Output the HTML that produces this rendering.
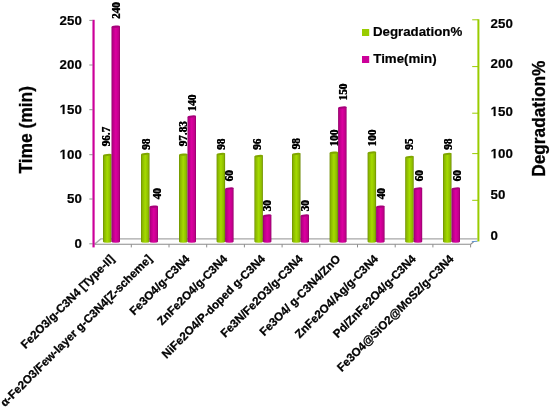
<!DOCTYPE html>
<html><head><meta charset="utf-8"><title>chart</title>
<style>
html,body{margin:0;padding:0;background:#fff;}
body{width:550px;height:407px;overflow:hidden;font-family:"Liberation Sans",sans-serif;}
svg{display:block;}
.ax{font-family:"Liberation Sans",sans-serif;font-weight:bold;font-size:13.3px;fill:#000;stroke:#000;stroke-width:0.2px;}
.ti{font-family:"Liberation Sans",sans-serif;font-weight:bold;font-size:17px;fill:#000;stroke:#000;stroke-width:0.3px;}
.xl{font-family:"Liberation Sans",sans-serif;font-weight:bold;font-size:11.6px;fill:#000;stroke:#000;stroke-width:0.3px;}
.dl{font-family:"Liberation Serif",serif;font-weight:bold;font-size:11.2px;fill:#000;stroke:#000;stroke-width:0.1px;}
</style></head><body>
<svg width="550" height="407" viewBox="0 0 550 407">
<defs>
<linearGradient id="gg" x1="0" x2="1" y1="0" y2="0">
<stop offset="0" stop-color="#6c8c00"/><stop offset="0.14" stop-color="#88b400"/><stop offset="0.5" stop-color="#a5db00"/><stop offset="0.84" stop-color="#8dba00"/><stop offset="1" stop-color="#6a8800"/>
</linearGradient>
<linearGradient id="mg" x1="0" x2="1" y1="0" y2="0">
<stop offset="0" stop-color="#8c0064"/><stop offset="0.14" stop-color="#b60084"/><stop offset="0.5" stop-color="#dc00a0"/><stop offset="0.84" stop-color="#c0008a"/><stop offset="1" stop-color="#900068"/>
</linearGradient>
</defs>
<rect x="0" y="0" width="550" height="407" fill="#ffffff"/>

<polygon points="94.5,244.3 100.7,239 478,239 471,244.3" fill="#fdfdfd"/>
<path d="M94.5,244.3 L100.7,238.9 L477.5,238.9" fill="none" stroke="#a8a8a8" stroke-width="1.4"/>
<path d="M94.5,244.2 L470.8,244.2 L473.6,241.9" fill="none" stroke="#8c8c8c" stroke-width="1.15"/>
<line x1="471.8" y1="241.7" x2="477.6" y2="241.2" stroke="#4a86c8" stroke-width="0.9"/>
<line x1="131.3" y1="244.3" x2="131.3" y2="247.4" stroke="#8c8c8c" stroke-width="1"/>
<line x1="169.0" y1="244.3" x2="169.0" y2="247.4" stroke="#8c8c8c" stroke-width="1"/>
<line x1="206.7" y1="244.3" x2="206.7" y2="247.4" stroke="#8c8c8c" stroke-width="1"/>
<line x1="244.4" y1="244.3" x2="244.4" y2="247.4" stroke="#8c8c8c" stroke-width="1"/>
<line x1="282.1" y1="244.3" x2="282.1" y2="247.4" stroke="#8c8c8c" stroke-width="1"/>
<line x1="319.8" y1="244.3" x2="319.8" y2="247.4" stroke="#8c8c8c" stroke-width="1"/>
<line x1="357.5" y1="244.3" x2="357.5" y2="247.4" stroke="#8c8c8c" stroke-width="1"/>
<line x1="395.2" y1="244.3" x2="395.2" y2="247.4" stroke="#8c8c8c" stroke-width="1"/>
<line x1="432.9" y1="244.3" x2="432.9" y2="247.4" stroke="#8c8c8c" stroke-width="1"/>
<line x1="470.6" y1="244.3" x2="470.6" y2="247.4" stroke="#8c8c8c" stroke-width="1"/>
<line x1="93.55" y1="19.8" x2="93.55" y2="247.4" stroke="#cc0099" stroke-width="2.2"/>
<line x1="89.3" y1="20.4" x2="92.8" y2="20.4" stroke="#7a7a7a" stroke-width="0.8"/>
<line x1="89.3" y1="65" x2="92.8" y2="65" stroke="#7a7a7a" stroke-width="0.8"/>
<line x1="89.3" y1="109.7" x2="92.8" y2="109.7" stroke="#7a7a7a" stroke-width="0.8"/>
<line x1="89.3" y1="154.7" x2="92.8" y2="154.7" stroke="#7a7a7a" stroke-width="0.8"/>
<line x1="89.3" y1="199" x2="92.8" y2="199" stroke="#7a7a7a" stroke-width="0.8"/>
<line x1="89.3" y1="243.8" x2="92.8" y2="243.8" stroke="#7a7a7a" stroke-width="0.8"/>
<line x1="478.4" y1="19.3" x2="478.4" y2="241.4" stroke="#99cc00" stroke-width="2"/>
<line x1="472.2" y1="19.8" x2="478.4" y2="19.8" stroke="#99cc00" stroke-width="1"/>
<line x1="472.2" y1="66.6" x2="478.4" y2="66.6" stroke="#99cc00" stroke-width="1"/>
<line x1="472.2" y1="113.2" x2="478.4" y2="113.2" stroke="#99cc00" stroke-width="1"/>
<line x1="472.2" y1="153.6" x2="478.4" y2="153.6" stroke="#99cc00" stroke-width="1"/>
<line x1="472.2" y1="200.3" x2="478.4" y2="200.3" stroke="#99cc00" stroke-width="1"/>
<path d="M103.0,155.5 L103.0,241.6 A4.25,1.2 0 0 0 111.5,241.6 L111.5,154.6 Z" fill="url(#gg)"/>
<ellipse cx="107.25" cy="155.05" rx="4.27" ry="1.05" fill="#80a600" transform="rotate(-6 107.25 155.05)"/>
<path d="M111.5,27.1 L111.5,241.6 A4.25,1.2 0 0 0 120.0,241.6 L120.0,26.2 Z" fill="url(#mg)"/>
<ellipse cx="115.75" cy="26.65" rx="4.27" ry="1.05" fill="#a6007a" transform="rotate(-6 115.75 26.65)"/>
<path d="M141.0,154.5 L141.0,241.6 A4.25,1.2 0 0 0 149.5,241.6 L149.5,153.6 Z" fill="url(#gg)"/>
<ellipse cx="145.25" cy="154.05" rx="4.27" ry="1.05" fill="#80a600" transform="rotate(-6 145.25 154.05)"/>
<path d="M149.5,207.1 L149.5,241.6 A4.25,1.2 0 0 0 158.0,241.6 L158.0,206.2 Z" fill="url(#mg)"/>
<ellipse cx="153.75" cy="206.65" rx="4.27" ry="1.05" fill="#a6007a" transform="rotate(-6 153.75 206.65)"/>
<path d="M179.0,155.1 L179.0,241.6 A4.25,1.2 0 0 0 187.5,241.6 L187.5,154.2 Z" fill="url(#gg)"/>
<ellipse cx="183.25" cy="154.65" rx="4.27" ry="1.05" fill="#80a600" transform="rotate(-6 183.25 154.65)"/>
<path d="M187.5,116.9 L187.5,241.6 A4.25,1.2 0 0 0 196.0,241.6 L196.0,116.0 Z" fill="url(#mg)"/>
<ellipse cx="191.75" cy="116.45" rx="4.27" ry="1.05" fill="#a6007a" transform="rotate(-6 191.75 116.45)"/>
<path d="M216.6,154.5 L216.6,241.6 A4.25,1.2 0 0 0 225.1,241.6 L225.1,153.6 Z" fill="url(#gg)"/>
<ellipse cx="220.85" cy="154.05" rx="4.27" ry="1.05" fill="#80a600" transform="rotate(-6 220.85 154.05)"/>
<path d="M225.1,188.9 L225.1,241.6 A4.25,1.2 0 0 0 233.6,241.6 L233.6,188.0 Z" fill="url(#mg)"/>
<ellipse cx="229.35" cy="188.45" rx="4.27" ry="1.05" fill="#a6007a" transform="rotate(-6 229.35 188.45)"/>
<path d="M254.4,156.5 L254.4,241.6 A4.25,1.2 0 0 0 262.9,241.6 L262.9,155.6 Z" fill="url(#gg)"/>
<ellipse cx="258.65" cy="156.05" rx="4.27" ry="1.05" fill="#80a600" transform="rotate(-6 258.65 156.05)"/>
<path d="M262.9,215.9 L262.9,241.6 A4.25,1.2 0 0 0 271.4,241.6 L271.4,215.0 Z" fill="url(#mg)"/>
<ellipse cx="267.15" cy="215.45" rx="4.27" ry="1.05" fill="#a6007a" transform="rotate(-6 267.15 215.45)"/>
<path d="M292.0,154.5 L292.0,241.6 A4.25,1.2 0 0 0 300.5,241.6 L300.5,153.6 Z" fill="url(#gg)"/>
<ellipse cx="296.25" cy="154.05" rx="4.27" ry="1.05" fill="#80a600" transform="rotate(-6 296.25 154.05)"/>
<path d="M300.5,215.9 L300.5,241.6 A4.25,1.2 0 0 0 309.0,241.6 L309.0,215.0 Z" fill="url(#mg)"/>
<ellipse cx="304.75" cy="215.45" rx="4.27" ry="1.05" fill="#a6007a" transform="rotate(-6 304.75 215.45)"/>
<path d="M329.6,153.1 L329.6,241.6 A4.25,1.2 0 0 0 338.1,241.6 L338.1,152.2 Z" fill="url(#gg)"/>
<ellipse cx="333.85" cy="152.65" rx="4.27" ry="1.05" fill="#80a600" transform="rotate(-6 333.85 152.65)"/>
<path d="M338.1,107.9 L338.1,241.6 A4.25,1.2 0 0 0 346.6,241.6 L346.6,107.0 Z" fill="url(#mg)"/>
<ellipse cx="342.35" cy="107.45" rx="4.27" ry="1.05" fill="#a6007a" transform="rotate(-6 342.35 107.45)"/>
<path d="M367.6,152.9 L367.6,241.6 A4.25,1.2 0 0 0 376.1,241.6 L376.1,152.0 Z" fill="url(#gg)"/>
<ellipse cx="371.85" cy="152.45" rx="4.27" ry="1.05" fill="#80a600" transform="rotate(-6 371.85 152.45)"/>
<path d="M376.1,207.1 L376.1,241.6 A4.25,1.2 0 0 0 384.6,241.6 L384.6,206.2 Z" fill="url(#mg)"/>
<ellipse cx="380.35" cy="206.65" rx="4.27" ry="1.05" fill="#a6007a" transform="rotate(-6 380.35 206.65)"/>
<path d="M405.2,157.5 L405.2,241.6 A4.25,1.2 0 0 0 413.7,241.6 L413.7,156.6 Z" fill="url(#gg)"/>
<ellipse cx="409.45" cy="157.05" rx="4.27" ry="1.05" fill="#80a600" transform="rotate(-6 409.45 157.05)"/>
<path d="M413.7,188.9 L413.7,241.6 A4.25,1.2 0 0 0 422.2,241.6 L422.2,188.0 Z" fill="url(#mg)"/>
<ellipse cx="417.95" cy="188.45" rx="4.27" ry="1.05" fill="#a6007a" transform="rotate(-6 417.95 188.45)"/>
<path d="M443.0,154.5 L443.0,241.6 A4.25,1.2 0 0 0 451.5,241.6 L451.5,153.6 Z" fill="url(#gg)"/>
<ellipse cx="447.25" cy="154.05" rx="4.27" ry="1.05" fill="#80a600" transform="rotate(-6 447.25 154.05)"/>
<path d="M451.5,188.9 L451.5,241.6 A4.25,1.2 0 0 0 460.0,241.6 L460.0,188.0 Z" fill="url(#mg)"/>
<ellipse cx="455.75" cy="188.45" rx="4.27" ry="1.05" fill="#a6007a" transform="rotate(-6 455.75 188.45)"/>
<g opacity="0.999">
<text class="dl" transform="translate(110.0,146.08) rotate(-90) scale(1,1.07)">96.7</text>
<text class="dl" transform="translate(110.0,146.52) rotate(-90) scale(1,1.07)">96.7</text>
<text class="dl" transform="translate(120.3,18.68) rotate(-90) scale(1,1.07)">240</text>
<text class="dl" transform="translate(120.3,19.12) rotate(-90) scale(1,1.07)">240</text>
<text class="dl" transform="translate(149.7,149.48) rotate(-90) scale(1,1.07)">98</text>
<text class="dl" transform="translate(149.7,149.92) rotate(-90) scale(1,1.07)">98</text>
<text class="dl" transform="translate(160.6,199.08) rotate(-90) scale(1,1.07)">40</text>
<text class="dl" transform="translate(160.6,199.52) rotate(-90) scale(1,1.07)">40</text>
<text class="dl" transform="translate(186.8,146.08) rotate(-90) scale(1,1.07)">97.83</text>
<text class="dl" transform="translate(186.8,146.52) rotate(-90) scale(1,1.07)">97.83</text>
<text class="dl" transform="translate(195.6,111.08) rotate(-90) scale(1,1.07)">140</text>
<text class="dl" transform="translate(195.6,111.52) rotate(-90) scale(1,1.07)">140</text>
<text class="dl" transform="translate(224.9,149.48) rotate(-90) scale(1,1.07)">98</text>
<text class="dl" transform="translate(224.9,149.92) rotate(-90) scale(1,1.07)">98</text>
<text class="dl" transform="translate(232.8,181.08) rotate(-90) scale(1,1.07)">60</text>
<text class="dl" transform="translate(232.8,181.52) rotate(-90) scale(1,1.07)">60</text>
<text class="dl" transform="translate(261.3,149.48) rotate(-90) scale(1,1.07)">96</text>
<text class="dl" transform="translate(261.3,149.92) rotate(-90) scale(1,1.07)">96</text>
<text class="dl" transform="translate(271.1,211.08) rotate(-90) scale(1,1.07)">30</text>
<text class="dl" transform="translate(271.1,211.52) rotate(-90) scale(1,1.07)">30</text>
<text class="dl" transform="translate(300.3,149.08) rotate(-90) scale(1,1.07)">98</text>
<text class="dl" transform="translate(300.3,149.52) rotate(-90) scale(1,1.07)">98</text>
<text class="dl" transform="translate(309.0,211.08) rotate(-90) scale(1,1.07)">30</text>
<text class="dl" transform="translate(309.0,211.52) rotate(-90) scale(1,1.07)">30</text>
<text class="dl" transform="translate(337.5,146.08) rotate(-90) scale(1,1.07)">100</text>
<text class="dl" transform="translate(337.5,146.52) rotate(-90) scale(1,1.07)">100</text>
<text class="dl" transform="translate(347.1,100.18) rotate(-90) scale(1,1.07)">150</text>
<text class="dl" transform="translate(347.1,100.62) rotate(-90) scale(1,1.07)">150</text>
<text class="dl" transform="translate(376.2,146.08) rotate(-90) scale(1,1.07)">100</text>
<text class="dl" transform="translate(376.2,146.52) rotate(-90) scale(1,1.07)">100</text>
<text class="dl" transform="translate(384.5,199.08) rotate(-90) scale(1,1.07)">40</text>
<text class="dl" transform="translate(384.5,199.52) rotate(-90) scale(1,1.07)">40</text>
<text class="dl" transform="translate(413.1,149.48) rotate(-90) scale(1,1.07)">95</text>
<text class="dl" transform="translate(413.1,149.92) rotate(-90) scale(1,1.07)">95</text>
<text class="dl" transform="translate(422.5,181.08) rotate(-90) scale(1,1.07)">60</text>
<text class="dl" transform="translate(422.5,181.52) rotate(-90) scale(1,1.07)">60</text>
<text class="dl" transform="translate(451.5,149.48) rotate(-90) scale(1,1.07)">98</text>
<text class="dl" transform="translate(451.5,149.92) rotate(-90) scale(1,1.07)">98</text>
<text class="dl" transform="translate(460.5,181.08) rotate(-90) scale(1,1.07)">60</text>
<text class="dl" transform="translate(460.5,181.52) rotate(-90) scale(1,1.07)">60</text>
<text class="ax" x="59.61" y="24.65">250</text>
<text class="ax" x="59.61" y="69.25">200</text>
<path transform="translate(59.61,113.95) scale(0.006494,-0.006494)" d="M478,0 L478,1170 L140,959 L140,1180 L493,1409 L759,1409 L759,0 Z" fill="#000" stroke="#000" stroke-width="30"/>
<text class="ax" x="67.01" y="113.95">50</text>
<path transform="translate(59.61,158.95) scale(0.006494,-0.006494)" d="M478,0 L478,1170 L140,959 L140,1180 L493,1409 L759,1409 L759,0 Z" fill="#000" stroke="#000" stroke-width="30"/>
<text class="ax" x="67.01" y="158.95">00</text>
<text class="ax" x="67.01" y="203.25">50</text>
<text class="ax" x="74.40" y="248.05">0</text>
<text class="ax" x="490.60" y="28.20">250</text>
<text class="ax" x="490.60" y="68.00">200</text>
<path transform="translate(490.60,116.00) scale(0.006494,-0.006494)" d="M478,0 L478,1170 L140,959 L140,1180 L493,1409 L759,1409 L759,0 Z" fill="#000" stroke="#000" stroke-width="30"/>
<text class="ax" x="498.00" y="116.00">50</text>
<path transform="translate(490.60,158.20) scale(0.006494,-0.006494)" d="M478,0 L478,1170 L140,959 L140,1180 L493,1409 L759,1409 L759,0 Z" fill="#000" stroke="#000" stroke-width="30"/>
<text class="ax" x="498.00" y="158.20">00</text>
<text class="ax" x="490.60" y="198.80">50</text>
<text class="ax" x="490.60" y="239.80">0</text>
<text class="ti" style="font-size:17.4px" transform="translate(32.0,173.6) rotate(-90) scale(1,1.03)">Time (min)</text>
<text class="ti" style="font-size:17.3px" transform="translate(545.4,176.8) rotate(-90) scale(1,1.08)">Degradation%</text>
<rect x="362" y="29" width="7.2" height="7" fill="#99cc00"/>
<rect x="362" y="56" width="7.2" height="7" fill="#cc0099"/>
<text class="ax" x="372.9" y="36.3" style="font-size:13.3px">Degradation%</text>
<text class="ax" x="373.3" y="63.3" style="font-size:13.3px">Time(min)</text>
<text class="xl" text-anchor="end" transform="translate(115.0,259.6) rotate(-45)">Fe2O3/g-C3N4 [Type-II]</text>
<text class="xl" text-anchor="end" transform="translate(152.7,259.6) rotate(-45)">α-Fe2O3/Few-layer g-C3N4[Z-scheme]</text>
<text class="xl" text-anchor="end" transform="translate(190.4,259.6) rotate(-45)">Fe3O4/g-C3N4</text>
<text class="xl" text-anchor="end" transform="translate(228.1,259.6) rotate(-45)">ZnFe2O4/g-C3N4</text>
<text class="xl" text-anchor="end" transform="translate(265.8,259.6) rotate(-45)">NiFe2O4/P-doped g-C3N4</text>
<text class="xl" text-anchor="end" transform="translate(303.5,259.6) rotate(-45)">Fe3N/Fe2O3/g-C3N4</text>
<text class="xl" text-anchor="end" transform="translate(341.2,259.6) rotate(-45)">Fe3O4/ g-C3N4/ZnO</text>
<text class="xl" text-anchor="end" transform="translate(378.9,259.6) rotate(-45)">ZnFe2O4/Ag/g-C3N4</text>
<text class="xl" text-anchor="end" transform="translate(416.6,259.6) rotate(-45)">Pd/ZnFe2O4/g-C3N4</text>
<text class="xl" text-anchor="end" transform="translate(454.3,259.6) rotate(-45)">Fe3O4@SiO2@MoS2/g-C3N4</text>
</g>
</svg></body></html>
